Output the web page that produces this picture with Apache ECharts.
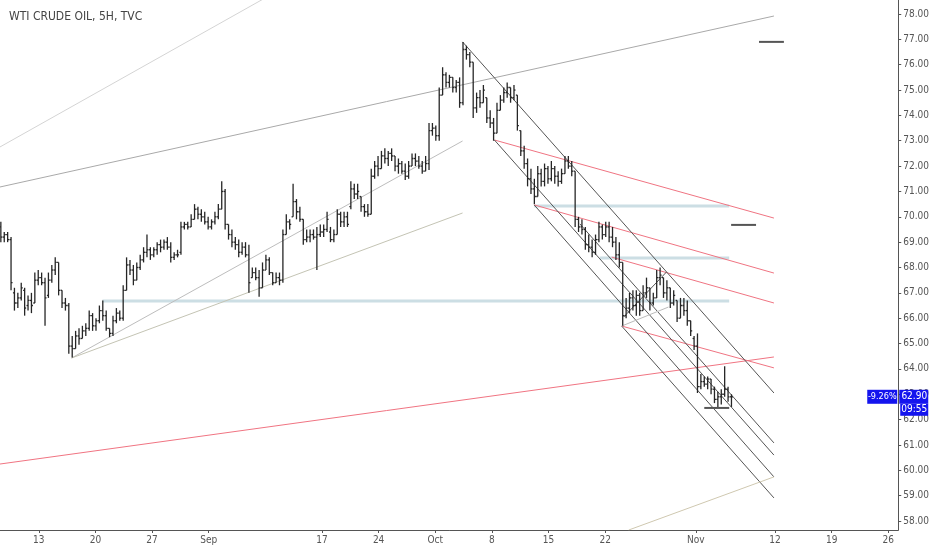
<!DOCTYPE html>
<html>
<head>
<meta charset="utf-8">
<title>WTI CRUDE OIL, 5H, TVC</title>
<script src="https://cdn.jsdelivr.net/npm/echarts@6/dist/echarts.min.js"></script>
<style>
  html, body { margin: 0; padding: 0; background: #fff; }
  #container { width: 932px; height: 550px; }
</style>
</head>
<body>
<div id="container"></div>
<script>
// trading days counted from Mon 13 Aug (weekends skipped)
var xTickDays = [0, 5, 10, 15, 25, 30, 35, 40, 45, 50, 58, 65, 70, 75];
var xTickNames = ['13', '20', '27', 'Sep', '17', '24', 'Oct', '8', '15', '22', 'Nov', '12', '19', '26'];
var yTicks = [58, 59, 60, 61, 62, 63, 64, 65, 66, 67, 68, 69, 70, 71, 72, 73, 74, 75, 76, 77, 78];

// one bar every 0.3 trading day, first bar at day -3.35
var barStart = -3.35;
var barStep = 0.3;
// [open, high, low, close]
var ohlc = [
  [69.6,69.8,69.0,69.2],[69.2,69.4,69.0,69.3],[69.3,69.4,69.0,69.1],[69.1,69.2,67.1,67.4],
  [67.0,67.2,66.3,66.6],[66.6,67.0,66.4,66.8],[66.8,67.4,66.7,67.2],[67.1,67.2,66.1,66.4],
  [66.5,66.9,66.3,66.7],[66.7,67.0,66.2,66.5],[66.6,67.8,66.6,67.5],[67.5,67.9,67.3,67.6],
  [67.6,67.8,67.3,67.4],[67.4,67.6,65.7,66.8],[66.9,67.8,66.8,67.5],[67.5,68.1,67.4,67.9],
  [67.9,68.4,67.7,68.2],[68.2,68.2,66.9,67.1],[67.1,67.1,66.4,66.6],[66.6,66.8,66.3,66.5],
  [66.5,66.6,64.6,64.9],[64.9,65.3,64.45,64.8],[64.8,65.5,64.8,65.3],[65.3,65.6,64.95,65.2],
  [65.2,65.7,65.2,65.5],[65.5,65.8,65.3,65.6],[65.6,66.3,65.5,66.1],[66.1,66.2,65.5,65.7],
  [65.7,66.0,65.5,65.9],[65.9,66.5,65.8,66.3],[66.3,66.7,65.9,66.1],[66.1,66.3,65.5,65.6],
  [65.6,65.6,65.25,65.4],[65.4,66.1,65.3,65.9],[65.9,66.4,65.8,66.2],[66.2,66.3,65.9,66.0],
  [66.0,67.3,65.9,67.1],[67.1,68.4,67.1,68.1],[68.1,68.3,67.7,67.9],[67.9,68.1,67.3,67.5],
  [67.5,68.2,67.5,68.0],[68.0,68.5,67.9,68.3],[68.3,68.8,68.2,68.6],[68.6,69.3,68.4,68.7],
  [68.7,68.8,68.3,68.5],[68.5,68.8,68.4,68.7],[68.7,69.0,68.5,68.9],[68.9,69.1,68.6,68.8],
  [68.8,69.1,68.7,69.0],[69.0,69.2,68.7,68.8],[68.8,69.0,68.2,68.4],[68.4,68.6,68.3,68.5],
  [68.5,68.7,68.4,68.5],[68.6,69.8,68.5,69.6],[69.6,69.8,69.5,69.7],[69.7,69.8,69.5,69.6],
  [69.6,70.1,69.6,69.9],[69.9,70.5,69.9,70.3],[70.3,70.4,69.9,70.1],[70.1,70.3,69.8,70.0],
  [70.0,70.2,69.7,69.8],[69.8,70.0,69.5,69.6],[69.6,69.9,69.5,69.8],[69.8,70.2,69.7,70.0],
  [70.0,70.5,69.9,70.3],[70.3,71.4,70.3,71.0],[71.0,71.1,69.5,69.7],[69.7,69.7,69.1,69.3],
  [69.3,69.5,68.8,69.0],[69.0,69.2,68.7,68.9],[68.9,69.1,68.4,68.6],[68.6,69.0,68.5,68.8],
  [68.8,69.0,68.4,68.5],[68.5,68.9,67.0,67.4],[67.6,68.0,67.6,67.8],[67.8,68.0,67.5,67.6],
  [67.6,67.9,66.85,67.2],[67.2,68.2,67.2,67.9],[67.9,68.5,67.9,68.3],[68.3,68.4,67.7,67.8],
  [67.8,67.8,67.3,67.4],[67.4,67.8,67.4,67.6],[67.6,67.8,67.3,67.5],[67.5,69.5,67.4,69.3],
  [69.3,70.1,69.3,69.8],[69.8,69.9,69.5,69.7],[70.0,71.3,70.0,70.6],[70.6,70.7,69.9,70.2],
  [70.2,70.4,69.8,69.9],[69.9,69.9,68.9,69.1],[69.1,69.5,69.0,69.2],[69.2,69.5,69.0,69.3],
  [69.3,69.5,69.1,69.2],[69.2,69.6,67.9,69.3],[69.3,69.7,69.2,69.4],[69.4,69.7,69.2,69.5],
  [69.5,70.2,69.4,69.9],[69.4,69.6,69.0,69.1],[69.1,69.5,69.0,69.3],[69.3,70.3,69.3,70.1],
  [70.1,70.2,69.6,69.8],[69.8,70.2,69.6,70.0],[70.0,70.2,69.6,69.7],[70.4,71.4,70.3,71.1],
  [71.1,71.3,70.7,70.9],[70.9,71.3,70.7,71.0],[70.8,70.8,70.2,70.4],[70.4,70.5,70.0,70.2],
  [70.2,70.5,70.0,70.1],[70.1,71.9,70.1,71.6],[71.6,72.2,71.5,72.0],[72.0,72.4,71.6,71.9],
  [71.9,72.6,71.9,72.4],[72.4,72.7,72.1,72.3],[72.3,72.6,72.0,72.5],[72.5,72.7,72.2,72.4],
  [72.4,72.4,71.8,72.0],[72.0,72.3,71.7,72.1],[72.1,72.2,71.7,71.8],[71.8,72.1,71.45,71.6],
  [71.6,72.2,71.5,72.0],[72.0,72.5,72.0,72.3],[72.3,72.5,72.0,72.2],[72.2,72.4,71.9,72.0],
  [72.0,72.2,71.7,71.8],[71.8,72.4,71.8,72.1],[72.1,73.7,71.85,73.4],[73.4,73.7,73.2,73.5],
  [73.5,73.6,73.0,73.2],[73.2,75.1,73.0,74.8],[74.8,75.9,74.8,75.6],[75.6,75.7,75.1,75.3],
  [75.3,75.6,75.1,75.5],[75.5,75.5,74.9,75.1],[75.1,75.4,74.9,75.3],[75.3,75.5,74.3,74.5],
  [74.5,76.9,74.4,76.6],[76.6,76.75,76.2,76.4],[76.4,76.5,75.9,76.1],[76.1,76.1,73.9,74.3],
  [74.3,74.9,74.1,74.7],[74.7,75.0,74.3,74.5],[74.5,75.2,74.5,75.0],[74.7,74.7,73.7,73.9],
  [73.9,74.2,73.5,73.7],[73.7,73.9,73.0,73.3],[73.3,74.5,73.3,74.2],[74.2,74.8,74.2,74.6],
  [74.6,75.1,74.5,74.9],[74.9,75.3,74.7,75.1],[75.1,75.1,74.5,74.7],[74.7,75.2,74.6,75.0],
  [74.8,74.8,73.4,73.6],[73.4,73.4,72.4,72.6],[72.6,72.8,71.9,72.1],[72.1,72.3,71.2,71.5],
  [71.5,71.9,70.9,71.1],[71.1,71.5,70.5,70.8],[70.8,72.0,70.8,71.7],[71.7,71.9,71.2,71.4],
  [71.4,72.1,71.2,71.9],[71.9,72.0,71.3,71.5],[71.5,72.2,71.4,71.9],[71.9,72.0,71.3,71.6],
  [71.6,71.8,71.2,71.4],[71.4,71.9,71.3,71.7],[71.7,72.4,71.7,72.2],[72.2,72.4,71.9,72.0],
  [72.0,72.2,71.6,71.8],[71.8,71.8,69.6,69.9],[69.9,70.0,69.4,69.6],[69.6,69.9,69.3,69.5],
  [69.5,69.6,68.7,68.9],[68.9,69.3,68.6,68.8],[68.8,69.1,68.4,68.6],[68.6,69.3,68.5,69.1],
  [69.1,69.8,69.0,69.6],[69.6,69.7,69.1,69.3],[69.3,69.8,69.2,69.6],[69.6,69.8,69.0,69.2],
  [69.2,69.6,68.8,69.0],[69.0,69.2,68.3,68.5],[68.5,69.0,68.0,68.2],[68.2,68.2,65.7,66.1],
  [66.1,66.8,66.0,66.4],[66.4,67.0,66.2,66.8],[66.8,67.1,66.3,66.5],[66.5,67.1,66.1,66.9],
  [66.9,67.0,66.1,66.3],[66.3,67.3,66.3,67.0],[67.0,67.6,66.8,67.2],[67.2,67.2,66.3,66.6],
  [66.6,67.0,66.5,66.8],[66.8,67.9,66.8,67.6],[67.6,68.0,67.3,67.7],[67.6,67.6,66.8,67.0],
  [67.0,67.5,66.7,67.2],[67.2,67.2,66.4,66.6],[66.6,67.1,66.5,66.9],[66.7,66.7,65.85,66.0],
  [66.0,66.8,66.0,66.5],[66.5,66.8,66.1,66.3],[66.3,66.7,65.7,65.9],[65.9,65.9,65.3,65.5],
  [65.2,65.3,64.75,64.9],[64.9,65.4,63.05,63.3],[63.3,63.8,63.2,63.5],[63.5,63.7,63.3,63.4],
  [63.4,63.7,63.2,63.6],[63.6,63.6,63.0,63.2],[63.2,63.3,62.65,62.8],[62.8,63.1,62.5,62.9],
  [62.9,63.2,62.6,63.0],[63.0,64.1,62.9,63.2],[63.2,63.3,62.7,62.9],[62.9,63.0,62.5,62.9]
];

// drawings: [[day, price], [day, price]]
var greyLines = [
  [[-5, 72.36], [22, 79.14]],
  [[-5, 71.02], [64.9, 77.92]]
];
var fanLines = [
  [[2.9, 64.43], [37.41, 72.99]],
  [[2.9, 64.43], [37.41, 70.15]]
];
var redLines = [
  [[-5, 60.15], [64.9, 64.47]],
  [[40.22, 73.03], [64.9, 69.95]],
  [[43.73, 70.47], [64.9, 67.78]],
  [[50.58, 68.41], [64.9, 66.60]],
  [[51.46, 65.69], [64.9, 64.04]]
];
var channelLines = [
  [[37.41, 76.90], [64.9, 63.05]],
  [[47.77, 69.72], [64.9, 61.08]],
  [[40.22, 73.03], [64.9, 60.60]],
  [[43.73, 70.47], [64.9, 59.74]],
  [[51.46, 65.69], [64.9, 58.91]],
  [[51.64, 66.05], [55.41, 67.82]]
];
var smallLines = [
  [[51.46, 65.69], [55.59, 66.44]],
  [[52.08, 57.645], [64.9, 59.74]]
];
var levelLines = [
  [[5.62, 66.68], [60.95, 66.68]],
  [[43.73, 70.43], [60.95, 70.43]],
  [[49.53, 68.37], [60.95, 68.37]]
];
var markLines = [
  [[63.58, 76.90], [65.78, 76.90]],
  [[61.12, 69.68], [63.32, 69.68]],
  [[58.75, 62.46], [60.95, 62.46]]
];

var lastClose = 62.90;
var changeText = '-9.26%';
var timerText = '09:55';

var FONT = '"Liberation Sans Narrow", "DejaVu Sans Condensed", sans-serif';

var app = (function() {
	var dom = document.getElementById('container');
	var myChart = echarts.init(dom);

	var barData = ohlc.map(function(b, i) {
		return [barStart + i * barStep, b[0], b[1], b[2], b[3]];
	});

	function renderBar(params, api) {
		var d = api.value(0);
		var o = api.coord([d, api.value(1)]);
		var h = api.coord([d, api.value(2)]);
		var l = api.coord([d, api.value(3)]);
		var c = api.coord([d, api.value(4)]);
		var t = 1.5;
		var st = { stroke: '#262626', lineWidth: 1.3 };
		return {
			type: 'group',
			children: [
				{ type: 'line', shape: { x1: h[0], y1: h[1], x2: l[0], y2: l[1] }, style: st },
				{ type: 'line', shape: { x1: o[0] - t, y1: o[1], x2: o[0], y2: o[1] }, style: st },
				{ type: 'line', shape: { x1: c[0], y1: c[1], x2: c[0] + t, y2: c[1] }, style: st }
			]
		};
	}

	function lineSeries(list, color, width) {
		return list.map(function(pts) {
			return {
				type: 'line',
				data: pts,
				symbol: 'none',
				silent: true,
				clip: true,
				animation: false,
				z: 1,
				lineStyle: { color: color, width: width }
			};
		});
	}

	var series = [].concat(
		lineSeries(levelLines, 'rgba(170,200,210,0.6)', 3),
		lineSeries(greyLines.slice(0, 1), '#d4d4d4', 1),
		lineSeries(greyLines.slice(1), '#a9a9a9', 1),
		lineSeries(fanLines.slice(0, 1), '#bdbdbd', 1),
		lineSeries(fanLines.slice(1), '#c4c4b4', 1),
		lineSeries(redLines, '#f07482', 1),
		lineSeries(channelLines, '#555', 1),
		lineSeries(smallLines.slice(0, 1), '#bbb', 1),
		lineSeries(smallLines.slice(1), '#cfc8b0', 1),
		lineSeries(markLines, '#555', 2),
		[{
			type: 'custom',
			renderItem: renderBar,
			data: barData,
			encode: { x: 0, y: [2, 3] },
			clip: true,
			silent: true,
			animation: false,
			z: 3
		}]
	);

	myChart.setOption({
		backgroundColor: '#fff',
		animation: false,
		title: {
			text: 'WTI CRUDE OIL, 5H, TVC',
			left: 4,
			top: 6,
			textStyle: { color: '#444', fontSize: 12, fontWeight: 'normal', fontFamily: FONT }
		},
		grid: { left: 0, right: 29, top: 0, bottom: 20 },
		xAxis: {
			type: 'value',
			min: -3.425,
			max: 75.875,
			splitLine: { show: false },
			axisLine: { onZero: false, lineStyle: { color: '#555' } },
			axisTick: { customValues: xTickDays, length: 3, lineStyle: { color: '#555' } },
			axisLabel: {
				customValues: xTickDays,
				margin: 5,
				color: '#555',
				fontSize: 10,
				fontFamily: FONT,
				formatter: function(v) {
					return xTickNames[xTickDays.indexOf(v)];
				}
			}
		},
		yAxis: {
			type: 'value',
			position: 'right',
			min: 57.645,
			max: 78.552,
			scale: true,
			splitLine: { show: false },
			axisLine: { show: true, onZero: false, lineStyle: { color: '#555' } },
			axisTick: { show: true, customValues: yTicks, length: 3, lineStyle: { color: '#555' } },
			axisLabel: {
				customValues: yTicks,
				margin: 5,
				color: '#555',
				fontSize: 10,
				fontFamily: FONT,
				formatter: function(v) { return v.toFixed(2); }
			}
		},
		series: series
	});

	// last price tags on the price scale
	var py = myChart.convertToPixel({ yAxisIndex: 0 }, lastClose);
	var axisX = myChart.convertToPixel({ xAxisIndex: 0 }, 75.875);
	var blue = '#1414ee';
	var tagFont = '9px ' + FONT;
	myChart.setOption({
		graphic: [
			{ type: 'rect', z: 100, shape: { x: axisX - 31, y: py - 7, width: 30, height: 14 }, style: { fill: blue } },
			{ type: 'text', z: 101, x: axisX - 16, y: py, style: { text: changeText, fill: '#fff', font: tagFont, align: 'center', verticalAlign: 'middle' } },
			{ type: 'rect', z: 100, shape: { x: axisX + 1, y: py - 7, width: 29, height: 14 }, style: { fill: blue } },
			{ type: 'text', z: 101, x: axisX + 16, y: py, style: { text: lastClose.toFixed(2), fill: '#fff', font: '10px ' + FONT, align: 'center', verticalAlign: 'middle' } },
			{ type: 'rect', z: 100, shape: { x: axisX + 2, y: py + 7, width: 28, height: 12 }, style: { fill: blue } },
			{ type: 'text', z: 101, x: axisX + 16, y: py + 13, style: { text: timerText, fill: '#fff', font: '10px ' + FONT, align: 'center', verticalAlign: 'middle' } }
		]
	});

	return {
		resize: function() { myChart.resize(); }
	};
})();

window.addEventListener('resize', function() { app.resize(); });
</script>
</body>
</html>
